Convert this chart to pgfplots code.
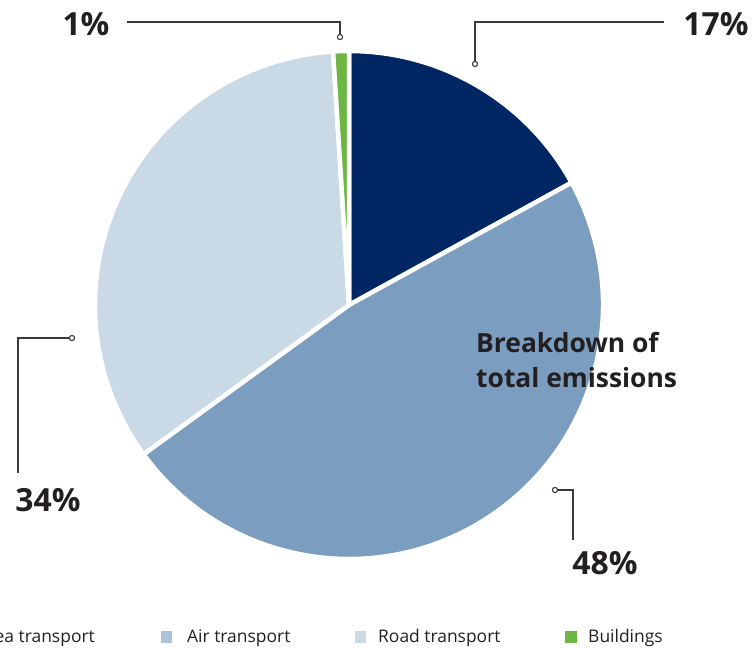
\documentclass[border=0pt]{standalone}
\usepackage{pgfplots}
\pgfplotsset{compat=1.18}
\usepackage{pgfplotstable}
\usepackage{fontspec}
\setmainfont{Open Sans}

\definecolor{seaC}{HTML}{002663}
\definecolor{airC}{HTML}{7A9DC0}
\definecolor{roadC}{HTML}{CAD9E6}
\definecolor{bldC}{HTML}{6DB644}
\definecolor{airL}{HTML}{ABC3DA}
\definecolor{txt}{HTML}{231F20}
\definecolor{lead}{HTML}{3A3A3A}

% share of total emissions, percent
\pgfplotstableread{
sector value
Sea 17
Air 48
Road 34
Buildings 1
}\piedata

\pgfplotstablegetelem{0}{value}\of\piedata \let\vSea\pgfplotsretval
\pgfplotstablegetelem{1}{value}\of\piedata \let\vAir\pgfplotsretval
\pgfplotstablegetelem{2}{value}\of\piedata \let\vRoad\pgfplotsretval
\pgfplotstablegetelem{3}{value}\of\piedata \let\vBld\pgfplotsretval

% slices run clockwise from 12 o'clock
\pgfmathsetmacro\aA{90}
\pgfmathsetmacro\aB{\aA-3.6*\vSea}
\pgfmathsetmacro\aC{\aB-3.6*\vAir}
\pgfmathsetmacro\aD{\aC-3.6*\vRoad}
\pgfmathsetmacro\aE{\aD-3.6*\vBld}

\newcommand\slice[3]{%
  \fill[#3, draw=white, line width=4.5bp, line join=round]
    (axis cs:349,343) -- ++(#1:254bp) arc[start angle=#1, end angle=#2, radius=254bp] -- cycle;}

\begin{document}
\begin{tikzpicture}
\begin{axis}[
    width=754bp, height=648bp, scale only axis,
    xmin=0, xmax=754, ymin=0, ymax=648,
    hide axis, clip=false,
]
\slice{\aA}{\aB}{seaC}
\slice{\aB}{\aC}{airC}
\slice{\aC}{\aD}{roadC}
\slice{\aD}{\aE}{bldC}

% leader lines
\begin{scope}[lead, line width=1.1bp]
\draw (axis cs:127,626) -- (axis cs:340,626) -- (axis cs:340,611);
\draw (axis cs:664,626) -- (axis cs:475,626) -- (axis cs:475,584);
\draw (axis cs:72,310) -- (axis cs:18,310) -- (axis cs:18,175);
\draw (axis cs:555,158) -- (axis cs:573,158) -- (axis cs:573,108);
\filldraw[fill=white] (axis cs:340,611) circle[radius=2.6bp];
\filldraw[fill=white] (axis cs:475,584) circle[radius=2.6bp];
\filldraw[fill=white] (axis cs:72,310) circle[radius=2.6bp];
\filldraw[fill=white] (axis cs:555,158) circle[radius=2.6bp];
\end{scope}

\begin{scope}[every node/.style={text=txt, font=\fontsize{32}{36}\selectfont\bfseries, inner sep=0pt}]
\node at (axis cs:86,624) {\vBld\%};
\node at (axis cs:716,624) {\vSea\%};
\node at (axis cs:48,148) {\vRoad\%};
\node at (axis cs:605,85) {\vAir\%};
\end{scope}

\node[anchor=base west, inner sep=0pt, text=txt, font=\fontsize{26.5}{30}\selectfont\bfseries]
  at (axis cs:476,295) {Breakdown of};
\node[anchor=base west, inner sep=0pt, text=txt, font=\fontsize{26.5}{30}\selectfont\bfseries]
  at (axis cs:476,260) {total emissions};

% legend
\begin{scope}[every node/.style={text=txt, font=\fontsize{17.5}{20}\selectfont, inner sep=0pt, anchor=base west}]
\node[anchor=base east] at (axis cs:95,5) {Sea transport};
\fill[airL] (axis cs:161,5) rectangle (axis cs:172,17);
\node at (axis cs:187,5) {Air transport};
\fill[roadC] (axis cs:355,5) rectangle (axis cs:366,17);
\node at (axis cs:378,5) {Road transport};
\fill[bldC] (axis cs:565,5) rectangle (axis cs:577,17);
\node at (axis cs:588,5) {Buildings};
\end{scope}
\end{axis}
\pgfresetboundingbox
\path (0,0) rectangle (754bp,648bp);
\end{tikzpicture}
\end{document}
